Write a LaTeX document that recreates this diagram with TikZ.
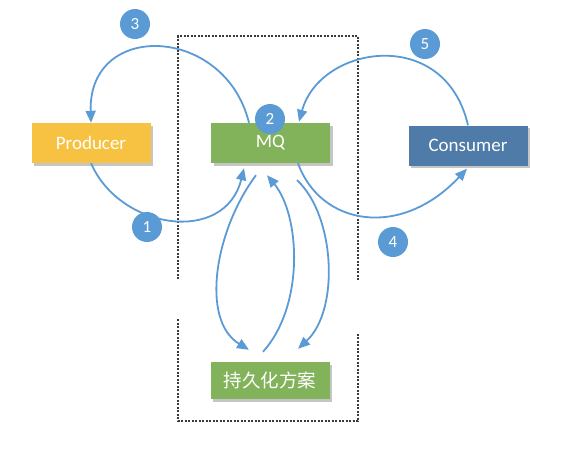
\documentclass[tikz,border=0pt]{standalone}
\usepackage{fontspec}
\setmainfont{Carlito}
\newfontfamily\cjk{Noto Sans CJK SC}
\usetikzlibrary{arrows.meta,shadows,calc}
\definecolor{arrowblue}{HTML}{5B9BD5}
\definecolor{circblue}{HTML}{5B9BD5}
\definecolor{prodyellow}{HTML}{F7C242}
\definecolor{mqgreen}{HTML}{82B35A}
\definecolor{consblue}{HTML}{4E7BA8}
\definecolor{dashgrey}{HTML}{3A3A3A}
\tikzset{
  box/.style={rectangle, minimum height=40pt, minimum width=119pt, inner sep=0pt,
    text=white, font=\fontsize{19}{21}\selectfont,
    drop shadow={shadow xshift=2.5pt, shadow yshift=-2.5pt, fill=black!45, opacity=0.5}},
  badge/.style={circle, fill=circblue, minimum size=30pt, inner sep=0pt,
    text=white, font=\fontsize{17}{18}\selectfont},
  flow/.style={draw=arrowblue, line width=1.8pt, -{Triangle[length=12pt,width=10pt]}},
  frame/.style={draw=dashgrey, line width=1.6pt, dash pattern=on 2pt off 1.5pt}
}
\begin{document}
\begin{tikzpicture}[x=1pt,y=-1pt]
\useasboundingbox (0,0) rectangle (565,451);
% dashed frame
\coordinate (f1) at (178,279);
\coordinate (f2) at (178,36);
\coordinate (f3) at (358,36);
\coordinate (f4) at (358,280);
\coordinate (f5) at (178,319);
\coordinate (f6) at (178,421);
\coordinate (f7) at (358,421);
\coordinate (f8) at (358,333);
\draw[frame] (f1) -- (f2) -- (f3) -- (f4);
\draw[frame] (f5) -- (f6) -- (f7) -- (f8);
% boxes
\node[box, fill=prodyellow] (prod) at (91,143) {Producer};
\node[box, fill=mqgreen] (mq) at (270.5,143) {MQ};
\node[box, fill=consblue] (cons) at (468,145.5) {Consumer};
\node[box, fill=mqgreen, minimum height=37pt, font=\cjk\fontsize{18.5}{20}\selectfont] (pers) at (270,380.5) {持久化方案};
% arrows
\draw[flow] (prod.south) .. controls (120,230) and (225,245) .. ([xshift=-26.5pt,yshift=-5pt]mq.south);
\draw[flow] ([xshift=-21.5pt]mq.north) .. controls (225,25) and (88,20) .. (prod.north);
\draw[flow] (cons.north) .. controls (445,25) and (320,45) .. ([xshift=28.5pt,yshift=1pt]mq.north);
\draw[flow] ([xshift=27.5pt]mq.south) .. controls (320,225) and (400,240) .. ([xshift=-1pt,yshift=-3pt]cons.south);
\draw[flow] ([xshift=-14.5pt,yshift=-12pt]mq.south) .. controls (215,230) and (200,320) .. ([xshift=-21pt,yshift=12pt]pers.north);
\draw[flow] ([xshift=-7pt,yshift=10pt]pers.north) .. controls (305,305) and (300,215) .. ([xshift=-3.5pt,yshift=-12pt]mq.south);
\draw[flow] ([xshift=26.5pt,yshift=-17pt]mq.south) .. controls (335,215) and (340,310) .. ([xshift=28pt,yshift=13pt]pers.north);
% badges
\node[badge] (b3) at (135,24) {3};
\node[badge] (b5) at (425,44) {5};
\node[badge] (b2) at (270,119) {2};
\node[badge] (b1) at (147,227) {1};
\node[badge] (b4) at (393,242) {4};
\end{tikzpicture}
\end{document}
